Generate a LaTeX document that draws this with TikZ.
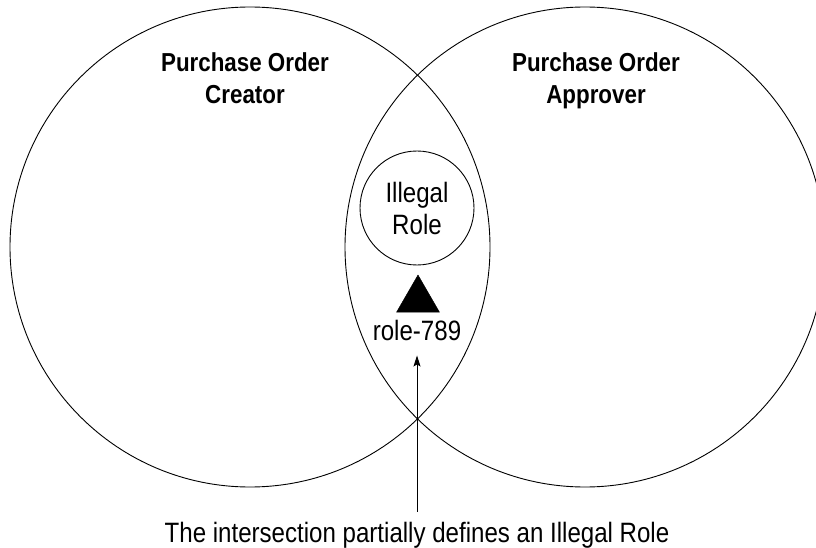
\documentclass[tikz,border=0pt]{standalone}
\usepackage{fontspec}
\setmainfont{Liberation Sans}[FakeStretch=0.86]
\usetikzlibrary{arrows.meta, shapes.geometric}

\begin{document}
\begin{tikzpicture}[
        x=1pt, y=-1pt,
        font=\fontsize{28}{32}\selectfont,
        >={Stealth[length=11pt, width=7pt, inset=2pt]},
        set/.style={
            draw,
            circle,
            line width=0.9pt,
            inner sep=0pt
        },
        title/.style={
            align=center,
            anchor=north,
            inner sep=0pt,
            font=\fontsize{26}{32}\selectfont\bfseries
        },
        tag/.style={anchor=base, inner sep=0pt},
        arrow/.style={->, line width=0.9pt}
    ]

    \useasboundingbox (0,0) rectangle (816,548);
    \clip (0,0) rectangle (816,548);

    % Sets
    \node[set, minimum size=480pt] (creator) at (250,247) {};
    \node[set, minimum size=480pt] (approver) at (585,247) {};

    \node[title] (creatortitle) at (245,52) {Purchase Order\\Creator};
    \node[title] (approvertitle) at (596,52) {Purchase Order\\Approver};

    % Intersection
    \node[set, minimum size=114pt, align=center] (illegal) at (417,208) {
        Illegal\\Role
    };

    \node[draw, fill, regular polygon, regular polygon sides=3,
          minimum size=49.6pt, inner sep=0pt] (marker) at (418,299.8) {};

    \node[tag] (role) at (417,340) {role-789};

    % Note
    \node[tag] (note) at (417,542) {The intersection partially defines an Illegal Role};

    \draw[arrow, shorten <=10pt, shorten >=15pt] (note.north) -- (role.south);

\end{tikzpicture}
\end{document}
